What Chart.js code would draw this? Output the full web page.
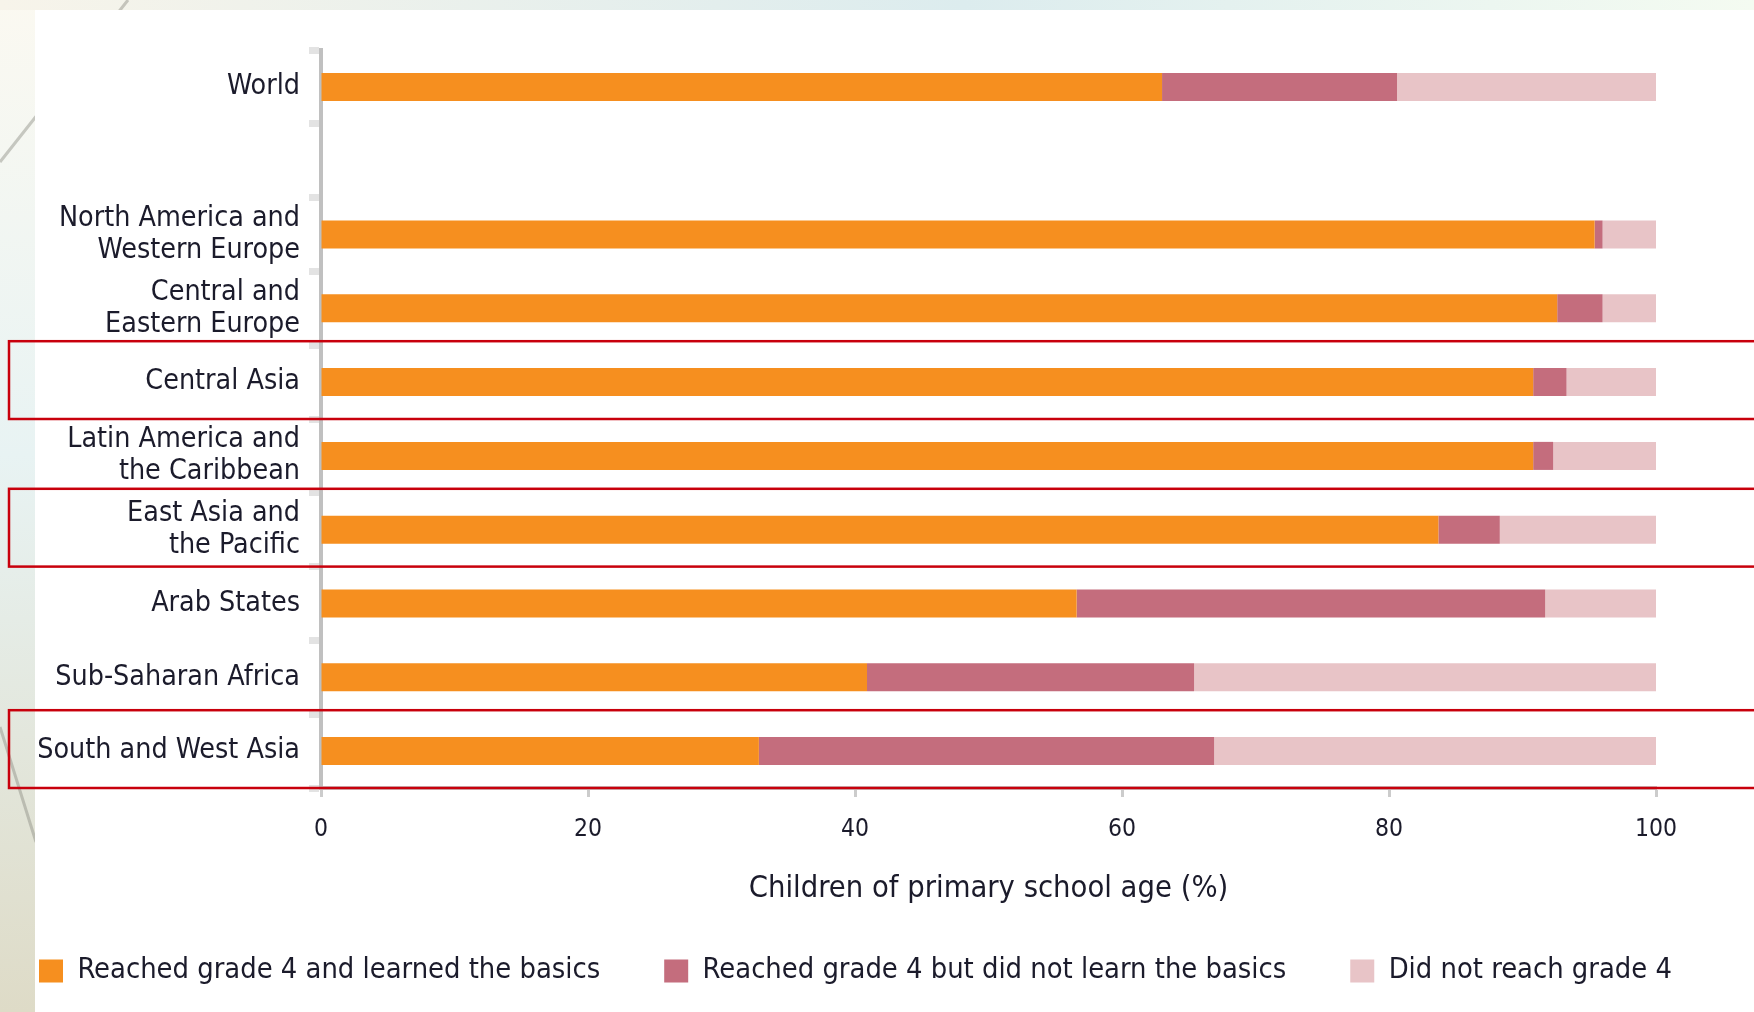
<!DOCTYPE html>
<html>
<head>
  <title>Learning by region</title>
  <script src="https://cdn.jsdelivr.net/npm/chart.js"></script>
  <style>
    html, body { margin: 0; padding: 0; background: #fff; }
    canvas { display: block; }
  </style>
</head>
<body>
  <canvas id="learnChart" width="1754" height="1012"></canvas>

  <script>
    // regions, top to bottom ('' is the gap under World)
    const regions = [
      'World',
      '',
      ['North America and', 'Western Europe'],
      ['Central and', 'Eastern Europe'],
      'Central Asia',
      ['Latin America and', 'the Caribbean'],
      ['East Asia and', 'the Pacific'],
      'Arab States',
      'Sub-Saharan Africa',
      'South and West Asia'
    ];

    const learned    = [63.0, null, 95.4, 92.6, 90.8, 90.8, 83.7, 56.6, 40.9, 32.8];
    const notLearned = [17.6, null,  0.6,  3.4,  2.5,  1.5,  4.6, 35.1, 24.5, 34.1];
    const notReached = [19.4, null,  4.0,  4.0,  6.7,  7.7, 11.7,  8.3, 34.6, 33.1];

    const seriesNames = [
      'Reached grade 4 and learned the basics',
      'Reached grade 4 but did not learn the basics',
      'Did not reach grade 4'
    ];

    const xTicks = [0, 20, 40, 60, 80, 100];
    const axisTitle = 'Children of primary school age (%)';

    const highlighted = ['Central Asia', 'East Asia and the Pacific', 'South and West Asia'];

    const TEXT = '#1b1b2b';

    // pick a condensed face: Noto Sans condensed if the system has it, else DejaVu Sans Condensed
    const probe = document.createElement('canvas').getContext('2d');
    function measure(font, txt) { probe.font = font; return probe.measureText(txt).width; }
    let FAMILY = "'DejaVu Sans Condensed', sans-serif";
    let STRETCH = 'normal';
    const wNorm = measure("100px 'Noto Sans'", 'North America and');
    const wCond = measure("condensed 100px 'Noto Sans'", 'North America and');
    if (wCond < wNorm * 0.9) { FAMILY = "'Noto Sans', sans-serif"; STRETCH = 'condensed'; }

    // font size that gives a string the width it has in the original
    function sizeFor(txt, px) {
      return Math.round(px / (measure(STRETCH + ' 100px ' + FAMILY, txt) / 100) * 10) / 10;
    }
    const labelSize = sizeFor('North America and', 241);
    const tickSize = sizeFor('100', 42);
    const titleSize = sizeFor(axisTitle, 480);
    const legendSize = sizeFor(seriesNames[0], 522);

    // vertical layout
    const plotTop = 50, plotBottom = 788, legendY = 971, titleY = 889, tickY = 830;
    const legendPad = 64;
    const itemH = Math.max(legendSize, 23);
    const xScaleBottom = legendY - legendPad - itemH / 2;
    const xScaleHeight = xScaleBottom - plotBottom;
    const titleLH = titleSize * 1.2;
    const titlePadBottom = (xScaleBottom - titleY) - titleLH / 2;
    const bottomPad = 1012 - (legendY + itemH / 2 + 10);
    const leftPad = 39 - legendPad;

    // page background: cream strip on the left, pale band on top, white panel
    const backdrop = {
      id: 'backdrop',
      beforeDraw(chart) {
        const ctx = chart.ctx;
        const w = chart.width, h = chart.height;
        ctx.save();
        let g = ctx.createLinearGradient(0, 0, 0, h);
        g.addColorStop(0, '#fbf9f1');
        g.addColorStop(0.45, '#e8f3f3');
        g.addColorStop(1, '#dedbc7');
        ctx.fillStyle = g;
        ctx.fillRect(0, 0, w, h);
        g = ctx.createLinearGradient(0, 0, w, 0);
        g.addColorStop(0, '#f7f4ea');
        g.addColorStop(0.55, '#dcecee');
        g.addColorStop(1, '#f4fbf1');
        ctx.fillStyle = g;
        ctx.fillRect(0, 0, w, 10);
        ctx.strokeStyle = 'rgba(140,140,130,0.45)';
        ctx.lineWidth = 3;
        ctx.beginPath();
        ctx.moveTo(128, 0); ctx.lineTo(0, 162);
        ctx.moveTo(0, 727); ctx.lineTo(36, 842);
        ctx.stroke();
        ctx.fillStyle = '#ffffff';
        ctx.fillRect(35, 10, w - 35, h - 10);
        ctx.restore();
      }
    };

    // red frames round the highlighted rows
    const frames = {
      id: 'frames',
      afterDraw(chart) {
        const y = chart.scales.y;
        const ctx = chart.ctx;
        const band = (y.bottom - y.top) / regions.length;
        ctx.save();
        ctx.strokeStyle = '#c8000c';
        ctx.lineWidth = 2.5;
        regions.forEach((r, i) => {
          const name = Array.isArray(r) ? r.join(' ') : r;
          if (!highlighted.includes(name)) return;
          const cy = y.getPixelForValue(i);
          ctx.strokeRect(9, cy - band / 2 - 4, chart.width + 20, band + 4);
        });
        ctx.restore();
      }
    };

    const font = size => ({ family: FAMILY, size: size, weight: STRETCH });

    new Chart(document.getElementById('learnChart'), {
      type: 'bar',
      data: {
        labels: regions,
        datasets: [
          { label: seriesNames[0], data: learned,    backgroundColor: '#f68f1f' },
          { label: seriesNames[1], data: notLearned, backgroundColor: '#c46d7d' },
          { label: seriesNames[2], data: notReached, backgroundColor: '#e8c4c7' }
        ]
      },
      options: {
        indexAxis: 'y',
        responsive: false,
        animation: false,
        devicePixelRatio: 1,
        datasets: {
          bar: { categoryPercentage: 1, barPercentage: 0.38, borderWidth: 0 }
        },
        layout: { padding: { top: plotTop, right: 0, left: leftPad, bottom: bottomPad } },
        scales: {
          x: {
            stacked: true,
            min: 0,
            max: 100,
            afterBuildTicks: s => { s.ticks = xTicks.map(v => ({ value: v })); },
            afterFit: s => { s.height = xScaleHeight; },
            ticks: {
              font: font(tickSize), color: TEXT, autoSkip: false, maxRotation: 0,
              padding: tickY - plotBottom - 9 - tickSize * 0.6
            },
            grid: { drawOnChartArea: false, tickLength: 9, tickWidth: 3, tickColor: '#cccccc' },
            border: { color: '#cccccc', width: 4 },
            title: {
              display: true,
              text: axisTitle,
              font: Object.assign(font(titleSize), { lineHeight: 1.2 }),
              color: TEXT,
              padding: { top: 0, bottom: titlePadBottom }
            }
          },
          y: {
            stacked: true,
            afterFit: s => { s.width = 321 - leftPad; },
            ticks: {
              font: Object.assign(font(labelSize), { lineHeight: 1.13 }),
              color: TEXT, padding: 9, autoSkip: false
            },
            grid: { offset: true, drawOnChartArea: false, tickLength: 12, tickWidth: 7, tickColor: '#e3e3e3' },
            border: { color: '#c0c0c0', width: 4 }
          },
          // empty strip on the right so the plot stops at 100 while the legend can use the full width
          yRight: {
            type: 'linear',
            position: 'right',
            display: true,
            afterFit: s => { s.width = 98; },
            ticks: { display: false },
            grid: { display: false },
            border: { display: false }
          }
        },
        plugins: {
          legend: {
            position: 'bottom',
            align: 'start',
            labels: {
              boxWidth: 24,
              boxHeight: 23,
              padding: legendPad,
              color: TEXT,
              font: font(legendSize)
            }
          },
          tooltip: { enabled: false }
        }
      },
      plugins: [backdrop, frames]
    });
  </script>
</body>
</html>
